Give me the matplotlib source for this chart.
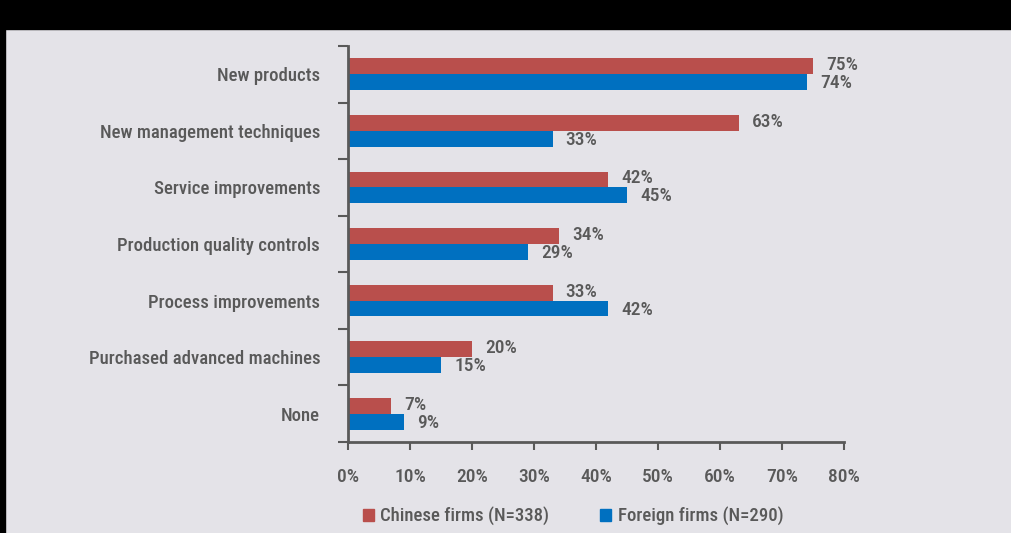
import matplotlib.pyplot as plt
from matplotlib.patches import Rectangle, Patch

categories = ["New products", "New management techniques", "Service improvements",
              "Production quality controls", "Process improvements",
              "Purchased advanced machines", "None"]
chinese = [75, 63, 42, 34, 33, 20, 7]
foreign = [74, 33, 45, 29, 42, 15, 9]
xticks = [0, 10, 20, 30, 40, 50, 60, 70, 80]
series_names = ["Chinese firms (N=338)", "Foreign firms (N=290)"]

red = "#b94f4c"
blue = "#0070c0"
grey = "#595959"
bg = "#e4e3e8"

plt.rcParams["font.family"] = ["Roboto Condensed", "Liberation Sans", "DejaVu Sans"]
plt.rcParams["font.weight"] = "medium"

fig = plt.figure(figsize=(10.12, 5.33), dpi=100, facecolor=bg)
# black header band and left strip
fig.patches.append(Rectangle((0, 1 - 29 / 533), 1, 29 / 533, transform=fig.transFigure,
                             color="black", zorder=0))
fig.patches.append(Rectangle((0, 0), 5 / 1012, 1, transform=fig.transFigure,
                             color="black", zorder=0))

ax = fig.add_axes([348 / 1012, 91 / 533, 496 / 1012, 396 / 533])
ax.set_facecolor(bg)

h = 0.28
pos = list(range(len(categories)))
ax.barh([p - h / 2 for p in pos], chinese, height=h, color=red)
ax.barh([p + h / 2 for p in pos], foreign, height=h, color=blue)

for p, c, f in zip(pos, chinese, foreign):
    ax.text(c + 2.1, p - h / 2 - 0.02, f"{c}%", va="center", ha="left", fontsize=14, color=grey)
    ax.text(f + 2.1, p + h / 2 + 0.02, f"{f}%", va="center", ha="left", fontsize=14, color=grey)

ax.set_xlim(0, 80)
ax.set_ylim(len(categories) - 0.5, -0.5)
ax.set_xticks(xticks)
ax.set_xticklabels([f"{x}%" for x in xticks], fontsize=14, color=grey)
ax.set_yticks([i - 0.5 for i in range(len(categories) + 1)])
ax.set_yticklabels([])
ax.set_yticks(pos, minor=True)
ax.set_yticklabels(categories, minor=True, fontsize=13.5, color=grey)
ax.tick_params(axis="y", which="major", length=7, width=1.5, color=grey)
ax.tick_params(axis="y", which="minor", length=0, pad=20)
ax.tick_params(axis="x", length=6, width=1.5, color=grey, pad=13)

for s in ["top", "right"]:
    ax.spines[s].set_visible(False)
for s in ["left", "bottom"]:
    ax.spines[s].set_color(grey)
    ax.spines[s].set_linewidth(2)

handles = [Patch(color=red), Patch(color=blue)]
fig.legend(handles, series_names, loc="center", bbox_to_anchor=(573 / 1012, 1 - 516 / 533),
           ncol=2, frameon=False, fontsize=13.5, labelcolor=grey, handlelength=0.6,
           handleheight=0.6, handletextpad=0.35, columnspacing=2.7)

fig.savefig("out.png", dpi=100, facecolor=bg)
